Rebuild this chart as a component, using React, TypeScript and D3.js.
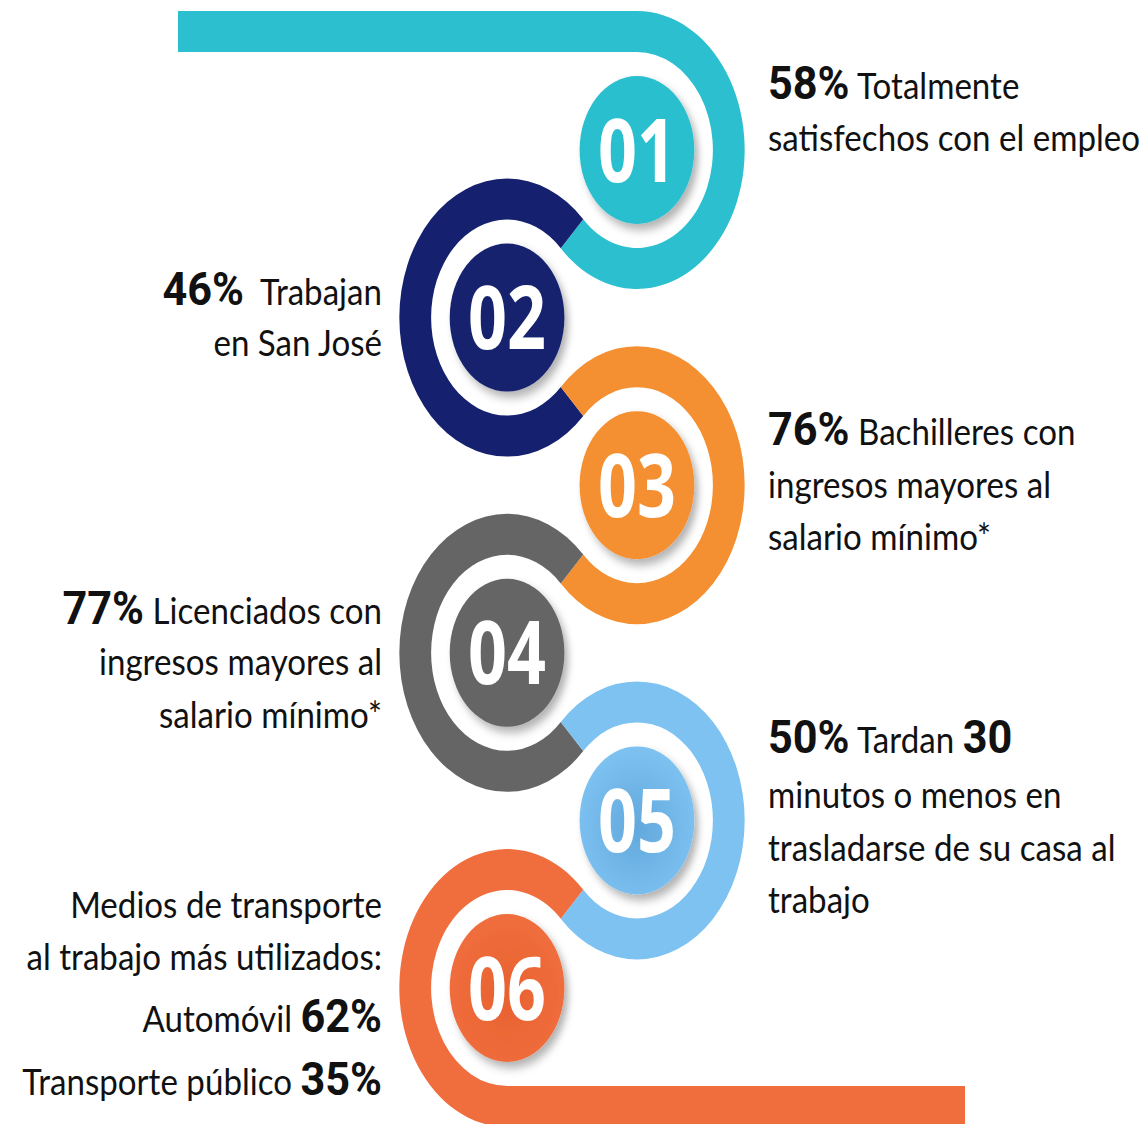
import React from 'react';
import * as d3 from 'd3';

// chart content
const stepNumbers = ['01', '02', '03', '04', '05', '06'];
const stepColors = ['#2bbfcf', '#15206e', '#f49032', '#656565', '#7dc2f1', '#f06e3e'];
const discCenterColors = ['#2bbfcf', '#15206e', '#f49032', '#656565', '#62a8dc', '#e8612f'];
const stepLines = [
  ['**58%** Totalmente', 'satisfechos con el empleo'],
  ['**46%**  Trabajan', 'en San José'],
  ['**76%** Bachilleres con', 'ingresos mayores al', 'salario mínimo*'],
  ['**77%** Licenciados con', 'ingresos mayores al', 'salario mínimo*'],
  ['**50%** Tardan **30**', 'minutos o menos en', 'trasladarse de su casa al', 'trabajo'],
  ['Medios de transporte', 'al trabajo más utilizados:', 'Automóvil **62%**', 'Transporte público **35%**'],
];

// layout
const W = 1144;
const H = 1124;
const midX = 572;
const squeeze = 0.775;
const rOuter = 139;
const rInner = 98;
const rDisc = 74;
const barStartX = 178;
const barEndX = 965;
const textBaselines = [
  [99, 151],
  [305, 356],
  [445, 498, 550],
  [624, 675, 728],
  [753, 808, 861, 913],
  [918, 970, 1032, 1095],
];
const rightTextX = 768;
const leftTextX = 382;
const textScale = 0.92;

const yScale = d3.scaleLinear().domain([0, stepNumbers.length - 1]).range([150, 988]);
const step = yScale(1) - yScale(0);
const cxU = (i: number) => (i % 2 === 0 ? 1 : -1) * step / 2;
const toU = (x: number) => (x - midX) / squeeze;

const deg = (a: number) => (a * Math.PI) / 180;
const ring = d3.arc<any>().innerRadius(rInner).outerRadius(rOuter);

function arcAngles(i: number) {
  const last = stepNumbers.length - 1;
  if (i % 2 === 0) return { startAngle: deg(i === 0 ? 0 : -45), endAngle: deg(225) };
  return { startAngle: deg(i === last ? 180 : 135), endAngle: deg(405) };
}

function parse(line: string) {
  return line
    .split(/(\*\*[^*]+\*\*)/)
    .filter(Boolean)
    .map((s) => (s.startsWith('**') ? { t: s.slice(2, -2), bold: true } : { t: s, bold: false }));
}

export default function App() {
  const last = stepNumbers.length - 1;
  return (
    <svg width={W} height={H} style={{ position: 'absolute', left: 0, top: 0, background: '#fff' }}>
      <defs>
        <filter id="shadow" x="-30%" y="-30%" width="170%" height="170%">
          <feDropShadow dx="5" dy="6" stdDeviation="5" floodColor="#000" floodOpacity="0.3" />
        </filter>
        {stepNumbers.map((n, i) => (
          <radialGradient key={n} id={`disc${i}`} cx="50%" cy="55%" r="55%">
            <stop offset="0%" stopColor={discCenterColors[i]} />
            <stop offset="100%" stopColor={stepColors[i]} />
          </radialGradient>
        ))}
      </defs>

      <g transform={`translate(${midX},0) scale(${squeeze},1)`}>
        <rect
          x={toU(barStartX)}
          y={yScale(0) - rOuter}
          width={cxU(0) - toU(barStartX) + 0.5}
          height={rOuter - rInner}
          fill={stepColors[0]}
        />
        <rect
          x={cxU(last) - 0.5}
          y={yScale(last) + rInner}
          width={toU(barEndX) - cxU(last) + 0.5}
          height={rOuter - rInner}
          fill={stepColors[last]}
        />
        {stepNumbers.map((n, i) => (
          <path
            key={`ring${n}`}
            d={ring(arcAngles(i)) as string}
            transform={`translate(${cxU(i)},${yScale(i)})`}
            fill={stepColors[i]}
          />
        ))}
        {stepNumbers.map((n, i) => (
          <g key={`disc${n}`}>
            <circle cx={cxU(i)} cy={yScale(i)} r={rDisc} fill={`url(#disc${i})`} filter="url(#shadow)" />
            <text
              x={cxU(i)}
              y={yScale(i)}
              dy="0.36em"
              textAnchor="middle"
              fill="#fff"
              fontFamily="'Open Sans', sans-serif"
              fontWeight={700}
              fontSize={88}
            >
              {n}
            </text>
          </g>
        ))}
      </g>

      {stepLines.map((lines, i) => {
        const right = i % 2 === 0;
        const x = right ? rightTextX : leftTextX;
        return (
          <g key={`txt${i}`}>
            {lines.map((line, j) => (
              <text
                key={j}
                transform={`translate(${x},${textBaselines[i][j]}) scale(${textScale},1)`}
                textAnchor={right ? 'start' : 'end'}
                fill="#111"
                style={{ whiteSpace: 'pre' }}
              >
                {parse(line).map((p, k) => (
                  <tspan
                    key={k}
                    fontFamily={p.bold ? 'Roboto, sans-serif' : 'Lato, sans-serif'}
                    fontWeight={p.bold ? 700 : 400}
                    fontSize={p.bold ? 47 : 36}
                  >
                    {p.t}
                  </tspan>
                ))}
              </text>
            ))}
          </g>
        );
      })}
    </svg>
  );
}
